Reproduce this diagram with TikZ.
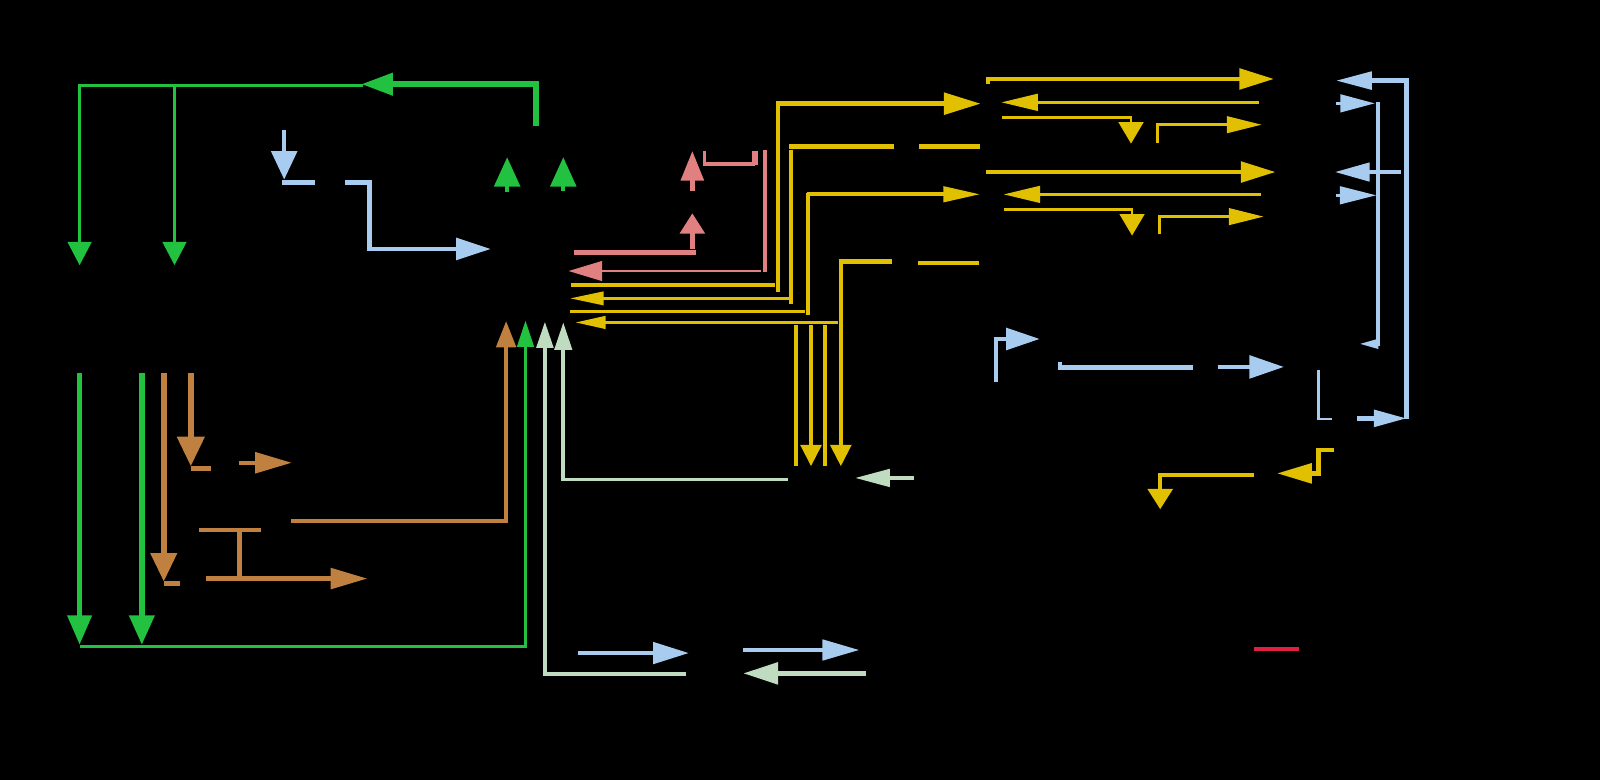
\documentclass[tikz,border=0pt]{standalone}
\usetikzlibrary{arrows.meta}
\definecolor{cgreen}{RGB}{34,193,63}
\definecolor{cbrown}{RGB}{192,128,64}
\definecolor{cblue}{RGB}{168,204,240}
\definecolor{cpink}{RGB}{224,128,128}
\definecolor{cyellow}{RGB}{224,192,0}
\definecolor{cpale}{RGB}{192,220,192}
\definecolor{ccrimson}{RGB}{224,32,64}
\begin{document}
\begin{tikzpicture}[x=0.5pt,y=-0.5pt,
  lw1/.style={line width=1.4pt},
  lw2/.style={line width=1.75pt},
  lw3/.style={line width=2.15pt},
  lw4/.style={line width=2.8pt},
  ar/.style 2 args={-{Triangle[length=#1,width=#2]}}]
\useasboundingbox (0,0) rectangle (1568,764);
\fill[black] (0,0) rectangle (1568,764);
% ---------- green ----------
\draw[cgreen,lw4,ar={15.5pt}{10.5pt}] (525,123) |- (354,82.5);
\draw[cgreen,lw2,ar={11.5pt}{11.5pt}] (356,83.6) -| (78,260);
\draw[cgreen,lw2,ar={11.5pt}{11.5pt}] (171,83.6) -- (171,260);
\draw[cgreen,lw3,ar={14.5pt}{12.5pt}] (497,188) -- (497,154);
\draw[cgreen,lw3,ar={14.5pt}{12.5pt}] (552,187) -- (552,154);
\draw[cgreen,lw4,ar={14.5pt}{11.5pt}] (78,366) -- (78,632);
\draw[cgreen,lw4,ar={14.5pt}{12pt}] (139,366) -- (139,632);
\draw[cgreen,lw2,ar={13pt}{8pt}] (78,633.5) -| (515,314);
% ---------- brown ----------
\draw[cbrown,lw4,ar={14pt}{12.5pt}] (160.5,366) -- (160.5,570);
\draw[cbrown,lw3] (160.5,572) -- (176,572);
\draw[cbrown,lw4,ar={14.5pt}{13pt}] (187,366) -- (187,457);
\draw[cbrown,lw3] (187,459) -- (206.5,459);
\draw[cbrown,lw3,ar={18pt}{10pt}] (234,453.5) -- (286,453.5);
\draw[cbrown,lw3,ar={13pt}{9.5pt}] (285,510.5) -| (496,314.5);
\draw[cbrown,lw3] (195,519.5) -- (256,519.5);
\draw[cbrown,lw3] (234.6,519.5) -- (234.6,567);
\draw[cbrown,lw3,ar={18pt}{10pt}] (202,567) -- (360,567);
% ---------- blue (left) ----------
\draw[cblue,lw3,ar={14pt}{12.5pt}] (278.5,127) -- (278.5,176);
\draw[cblue,lw3] (276.5,178.8) -- (309,178.8);
\draw[cblue,lw3,ar={17pt}{10.5pt}] (338,178.8) -| (362,244) -- (481,244);
% ---------- pink ----------
\draw[cpink,lw3,ar={14.5pt}{11pt}] (678.5,187) -- (678.5,148);
\draw[cpink,lw2] (690.5,148) -- (690.5,160.7) -- (740,160.7);
\draw[cpink,lw4] (740,161.5) -- (740,148);
\draw[cpink,lw3,ar={10pt}{12pt}] (678.5,243.7) -- (678.5,209);
\draw[cpink,lw3] (562.5,247.6) -- (682,247.6);
\draw[cpink,lw3] (749.7,147) -- (749.7,266.5);
\draw[cpink,lw1,ar={16.5pt}{9.5pt}] (746,265.6) -- (557,265.6);
% ---------- yellow (middle) ----------
\draw[cyellow,lw3] (559.5,279.3) -- (759.5,279.3);
\draw[cyellow,lw3,ar={18pt}{10.5pt}] (762.4,285.8) |- (961,101.6);
\draw[cyellow,lw3] (960.4,143.5) -- (900.6,143.5);
\draw[cyellow,lw3] (875.8,143.7) -- (773.4,143.7);
\draw[cyellow,lw3] (775.2,147) -- (775.2,297.6);
\draw[cyellow,lw1,ar={16.5pt}{6.5pt}] (773.5,292.4) -- (558.6,292.4);
\draw[cyellow,lw1] (558.6,305) -- (789,305);
\draw[cyellow,lw3] (791.8,308.7) -- (791.8,189);
\draw[cyellow,lw2,ar={18pt}{7.5pt}] (790.5,190.4) -- (960.4,190.4);
\draw[cyellow,lw2] (959.5,257.8) -- (899.6,257.8);
\draw[cyellow,lw3] (873.8,256.4) -- (822,256.4);
\draw[cyellow,lw3,ar={10.5pt}{10pt}] (824,254.5) -- (824,457);
\draw[cyellow,lw2,ar={15pt}{6pt}] (821,316) -- (563.5,316);
\draw[cyellow,lw3] (780,318.5) -- (780,457);
\draw[cyellow,lw3,ar={10.5pt}{10pt}] (794.8,318.5) -- (794.8,457);
\draw[cyellow,lw3] (808.5,318.5) -- (808.5,457);
% ---------- yellow (right) ----------
\draw[cyellow,lw3,ar={17pt}{10pt}] (968,82.5) -- (968,77.4) -- (1248.5,77.4);
\draw[cyellow,lw2,ar={18pt}{8pt}] (1233.8,100.3) -- (981,100.3);
\draw[cyellow,lw1,ar={10.5pt}{12pt}] (982,115.3) -| (1108.4,140.8);
\draw[cyellow,lw1,ar={17pt}{8pt}] (1134.5,139.8) |- (1236.4,122.2);
\draw[cyellow,lw3,ar={17pt}{10pt}] (968.3,170.5) -- (968.3,168.6) -- (1250,168.6);
\draw[cyellow,lw2,ar={18pt}{8pt}] (1235.8,190.5) -- (983.3,190.5);
\draw[cyellow,lw1,ar={10.5pt}{12pt}] (984,205.1) -| (1109.4,230.9);
\draw[cyellow,lw1,ar={17pt}{8pt}] (1136,229.6) |- (1238.4,212.3);
\draw[cyellow,lw3,ar={17pt}{9.5pt}] (1307,440.7) -- (1292,440.7) -- (1292,463.9) -- (1251.5,463.9);
\draw[cyellow,lw3,ar={10pt}{12pt}] (1229,465.2) -| (1137,499.1);
% ---------- blue (right) ----------
\draw[cblue,lw3,ar={16pt}{8pt}] (1330,410) -- (1378.5,410);
\draw[cblue,lw3,ar={17.5pt}{8.5pt}] (1378.5,411) -- (1378.5,79) -- (1309.3,79);
\draw[cblue,lw1] (1292,362.6) |- (1305,410.6);
\draw[cblue,lw2,ar={9.5pt}{4.5pt}] (1350.4,100.3) |- (1331.8,337);
\draw[cblue,lw2,ar={17pt}{8.5pt}] (1309.3,101.3) -- (1347.5,101.3);
\draw[cblue,lw2,ar={17pt}{9pt}] (1372.6,168.6) -- (1308.3,168.6);
\draw[cblue,lw2,ar={18pt}{8.5pt}] (1309.3,191.4) -- (1349,191.4);
\draw[cblue,lw3,ar={16.5pt}{10.5pt}] (975.8,374) |- (1019,332.2);
\draw[cblue,lw3] (1038.8,354.4) |- (1168.8,360.3);
\draw[cblue,lw3,ar={17pt}{11pt}] (1193.3,359.6) -- (1258.3,359.6);
% ---------- bottom ----------
\draw[cblue,lw2,ar={17.5pt}{10.5pt}] (566.4,640) -- (675,640);
\draw[cblue,lw2,ar={18pt}{10pt}] (728,637) -- (842,637);
\draw[cpale,lw2,ar={17pt}{8.5pt}] (895.7,468.4) -- (838,468.4);
\draw[cpale,lw2,ar={13.5pt}{8.5pt}] (772,469.7) -| (552,316);
\draw[cpale,lw3,ar={13pt}{8pt}] (672,660.8) -| (534,315);
\draw[cpale,lw3,ar={17pt}{10.5pt}] (848.3,659.9) -- (728.5,659.9);
\draw[ccrimson,lw3] (1229,636) -- (1273,636);
\end{tikzpicture}
\end{document}
